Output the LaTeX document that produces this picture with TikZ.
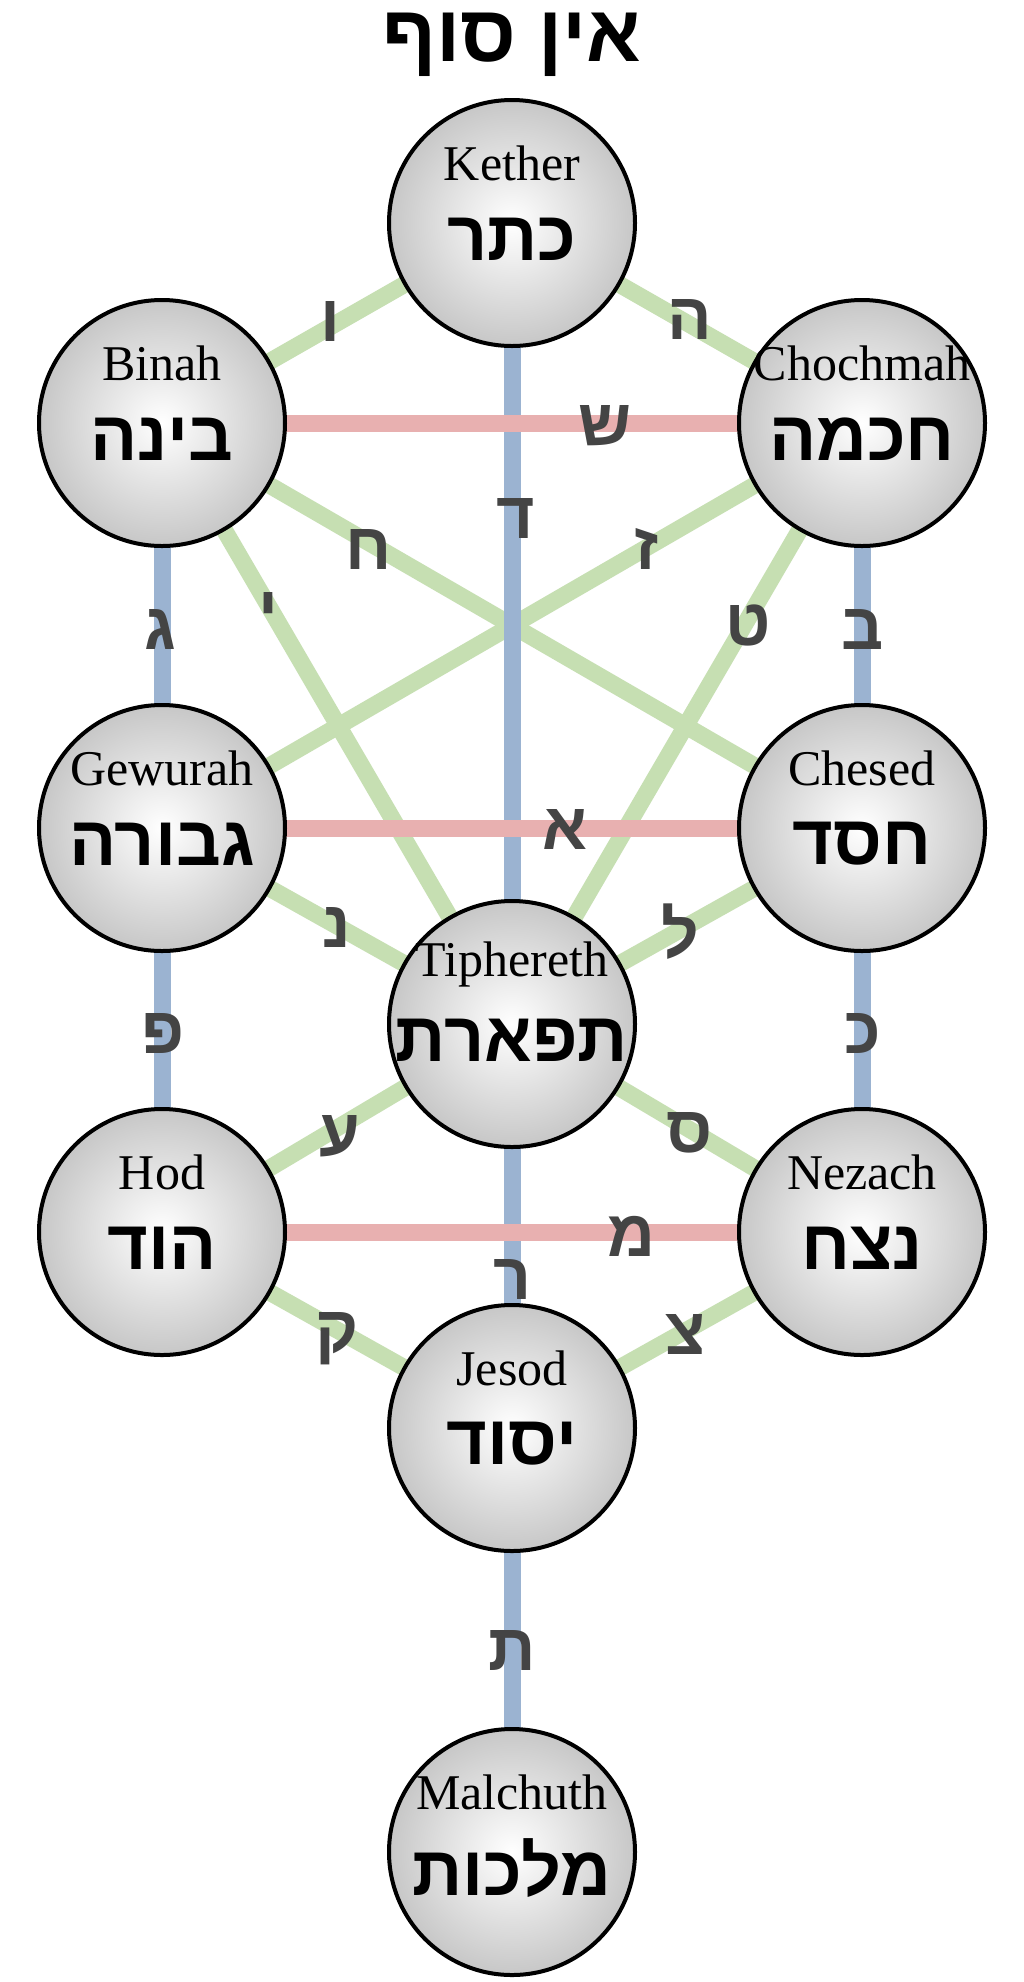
\documentclass[tikz,border=0pt]{standalone}
\usepackage{fontspec}
\setmainfont{Liberation Serif}
\newfontfamily\heb[Script=Hebrew]{Liberation Sans}
\TeXXeTstate=1
\definecolor{pblue}{HTML}{9BB3D1}
\definecolor{pgreen}{HTML}{C6DFB2}
\definecolor{pred}{HTML}{E8B0B0}
\definecolor{lbl}{HTML}{444444}
\tikzset{
 seph/.style={circle,draw=black,line width=4pt,minimum size=246pt,inner sep=0pt,shading=radial,inner color=white,outer color=black!22},
 pa/.style={line width=17pt},
 lt/.style={text=lbl,font=\heb\bfseries\fontsize{66}{66}\selectfont,inner sep=0pt},
 en/.style={font=\fontsize{50}{50}\selectfont,inner sep=0pt},
 hb/.style={font=\heb\bfseries\fontsize{70}{70}\selectfont,inner sep=0pt}
}
\newcommand{\HB}[1]{\beginR #1\endR}
\begin{document}
\begin{tikzpicture}[x=1pt,y=-1pt]
\useasboundingbox[fill=white] (0,0) rectangle (1024,1982);
\coordinate (K) at (512,223);
\coordinate (B) at (162,423);
\coordinate (C) at (862,423);
\coordinate (G) at (162,828);
\coordinate (H) at (862,828);
\coordinate (T) at (512,1024);
\coordinate (D) at (162,1232);
\coordinate (N) at (862,1232);
\coordinate (Y) at (512,1428);
\coordinate (M) at (512,1852);
% green
\foreach \a/\b in {K/B,K/C,B/H,C/G,B/T,C/T,G/T,H/T,T/D,T/N,D/Y,N/Y}
  \draw[pa,pgreen] (\a) -- (\b);
% blue
\foreach \a/\b in {K/T,T/Y,Y/M,B/G,G/D,C/H,H/N}
  \draw[pa,pblue] (\a) -- (\b);
% red
\foreach \a/\b in {B/C,G/H,D/N}
  \draw[pa,pred] (\a) -- (\b);
% sephirot
\foreach \c/\e/\h in {K/Kether/כתר,B/Binah/בינה,C/Chochmah/חכמה,G/Gewurah/גבורה,H/Chesed/חסד,T/Tiphereth/תפארת,D/Hod/הוד,N/Nezach/נצח,Y/Jesod/יסוד,M/Malchuth/מלכות}{
  \node[seph] (n\c) at (\c) {};
  \node[en] (e\c) at ([yshift=60pt]\c) {\e};
  \node[hb] (h\c) at ([yshift=-16pt]\c) {\HB{\h}};
}
\node[font=\heb\bfseries\fontsize{80}{80}\selectfont,inner sep=0pt] (title) at (512,45) {\HB{אין סוף}};
% path letters
\foreach \x/\y/\l [count=\i] in {330/321/ו,690/319/ה,605/426/ש,516/518/ד,369/549/ח,647/549/ז,268/612/י,748/625/ט,160/629/ג,863/629/ב,565/829/א,337/927/נ,680/932/ל,163/1033/פ,863/1033/כ,340/1136/ע,690/1133/ס,631/1236/מ,513/1279/ר,337/1339/ק,686/1334/צ,512/1650/ת}
  \node[lt] (l\i) at (\x,\y) {\HB{\l}};
\end{tikzpicture}
\end{document}
